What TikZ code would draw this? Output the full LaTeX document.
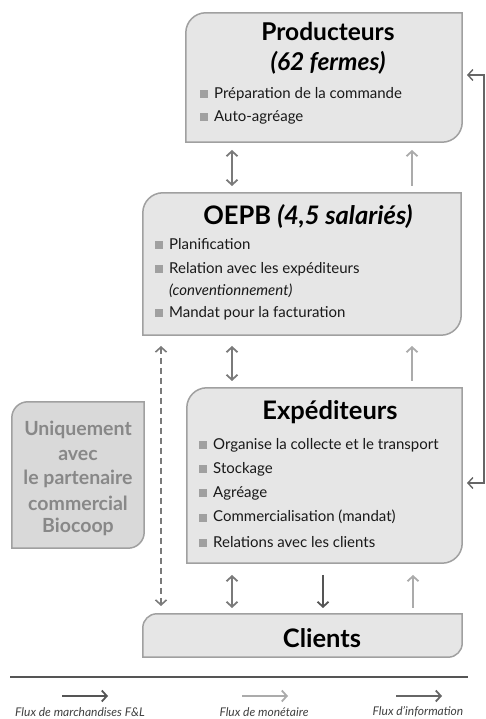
\documentclass[tikz,border=0pt]{standalone}
\usepackage{fontspec}
\setmainfont{Lato}
\usetikzlibrary{arrows.meta}
\definecolor{boxfill}{HTML}{E6E6E6}
\definecolor{boxline}{HTML}{A0A0A0}
\definecolor{bulgray}{HTML}{A0A0A0}
\definecolor{darkarr}{HTML}{555555}
\definecolor{medarr}{HTML}{7A7A7A}
\definecolor{lightarr}{HTML}{ABABAB}
\definecolor{bioFill}{HTML}{D9D9D9}
\definecolor{bioText}{HTML}{888888}
\newcommand{\bul}{{\color{bulgray}\rule{8pt}{8pt}}\hspace{6pt}}
\newcommand{\fancyshape}[3]{% node, radius, style
  \draw[#3] (#1.south west) -- ([yshift=-#2]#1.north west)
    arc[start angle=180,end angle=90,radius=#2] -- (#1.north east)
    -- ([yshift=#2]#1.south east)
    arc[start angle=0,end angle=-90,radius=#2] -- cycle;}
\tikzset{
  boxarea/.style={rectangle,draw=none,inner sep=0pt,minimum width=#1},
  boxst/.style={fill=boxfill,draw=boxline,line width=1.5pt},
  biost/.style={fill=bioFill,draw=boxline,line width=1.5pt},
  titletxt/.style={font=\fontsize{25.5}{28}\selectfont\bfseries,inner sep=0pt},
  bigtitle/.style={font=\fontsize{24.5}{28}\selectfont\bfseries,inner sep=0pt,anchor=base},
  bultxt/.style={font=\fontsize{15}{17}\selectfont,anchor=west,inner sep=0pt,text=black!90},
  biotxt/.style={font=\fontsize{19.5}{21}\selectfont\bfseries,text=bioText,inner sep=0pt},
  legtxt/.style={font=\fontsize{12}{14}\selectfont\itshape,inner sep=0pt,text=black!75},
  dbl/.style={draw=medarr,line width=1.8pt,{Straight Barb[length=5pt,width=11pt]}-{Straight Barb[length=5pt,width=11pt]}},
  downdark/.style={draw=darkarr,line width=1.8pt,-{Straight Barb[length=5pt,width=11pt]}},
  uplight/.style={draw=lightarr,line width=1.8pt,-{Straight Barb[length=5pt,width=11pt]}},
  dashdbl/.style={draw=medarr,line width=1.6pt,dash pattern=on 6pt off 4pt,{Straight Barb[length=5pt,width=11pt]}-{Straight Barb[length=5pt,width=11pt]}},
  infoarr/.style={draw=darkarr!90,line width=1.4pt,{Straight Barb[length=5pt,width=11pt]}-{Straight Barb[length=5pt,width=11pt]}},
}
\begin{document}
\begin{tikzpicture}[x=1pt,y=1pt]
\useasboundingbox (0,0) rectangle (486,719);
% boxes
\node[boxarea=276pt,minimum height=129pt] (prod) at (324,641.5) {};
\fancyshape{prod}{20pt}{boxst}
\node[boxarea=318pt,minimum height=142pt] (oepb) at (302,455) {};
\fancyshape{oepb}{20pt}{boxst}
\node[boxarea=275pt,minimum height=175pt] (exp) at (324.5,243.5) {};
\fancyshape{exp}{20pt}{boxst}
\node[boxarea=132pt,minimum height=146pt] (bio) at (78,244) {};
\fancyshape{bio}{16pt}{biost}
\node[boxarea=319pt,minimum height=43pt] (cli) at (302.5,83.5) {};
\fancyshape{cli}{14pt}{boxst}
% Producteurs text
\node[bigtitle] (pt1) at (328,678) {Producteurs};
\node[bigtitle,font=\fontsize{24.5}{28}\selectfont\bfseries\itshape] (pt2) at (328,648.5) {(62 fermes)};
\node[bultxt] (pb1) at (200,625) {\bul Préparation de la commande};
\node[bultxt] (pb2) at (200,602) {\bul Auto-agréage};
% OEPB text
\node[titletxt] (ot) at (308,502) {OEPB \textit{(4,5 salariés)}};
\node[bultxt] (ob1) at (155,475) {\bul Planification};
\node[bultxt] (ob2) at (155,450) {\bul Relation avec les expéditeurs};
\node[bultxt,font=\fontsize{15}{17}\selectfont\itshape] (ob3) at (169,428) {(conventionnement)};
\node[bultxt] (ob4) at (155,406) {\bul Mandat pour la facturation};
% Expediteurs text
\node[titletxt] (et) at (330,307) {Expéditeurs};
\node[bultxt] (eb1) at (199,274) {\bul Organise la collecte et le transport};
\node[bultxt] (eb2) at (199,250) {\bul Stockage};
\node[bultxt] (eb3) at (199,226) {\bul Agréage};
\node[bultxt] (eb4) at (199,202) {\bul Commercialisation (mandat)};
\node[bultxt] (eb5) at (199,177) {\bul Relations avec les clients};
% Biocoop text
\node[biotxt] (bt1) at (78,289) {Uniquement};
\node[biotxt] (bt2) at (78,264) {avec};
\node[biotxt] (bt3) at (78,240) {le partenaire};
\node[biotxt] (bt4) at (78,216) {commercial};
\node[biotxt] (bt5) at (78,192) {Biocoop};
% Clients text
\node[titletxt] (ct) at (322,81) {Clients};
% arrow coordinates
\coordinate (a1s) at (232,569); \coordinate (a1e) at (232,533);
\coordinate (a2s) at (412,533); \coordinate (a2e) at (412,569);
\coordinate (a3s) at (232,373); \coordinate (a3e) at (232,338);
\coordinate (a4s) at (412,338); \coordinate (a4e) at (412,373);
\coordinate (a5s) at (161,373); \coordinate (a5e) at (161,113);
\coordinate (a6s) at (232,144); \coordinate (a6e) at (232,111);
\coordinate (a7s) at (323,144); \coordinate (a7e) at (323,111);
\coordinate (a8s) at (413,111); \coordinate (a8e) at (413,144);
\coordinate (rTop) at (467,644); \coordinate (rBot) at (467,236);
\draw[dbl] (a1s) -- (a1e);
\draw[uplight] (a2s) -- (a2e);
\draw[dbl] (a3s) -- (a3e);
\draw[uplight] (a4s) -- (a4e);
\draw[dashdbl] (a5s) -- (a5e);
\draw[dbl] (a6s) -- (a6e);
\draw[downdark] (a7s) -- (a7e);
\draw[uplight] (a8s) -- (a8e);
\draw[infoarr] (rTop) -- ++(17,0) |- (rBot);
% legend
\coordinate (hl1) at (10,42); \coordinate (hl2) at (468,42);
\draw[draw=darkarr,line width=2pt] (hl1) -- (hl2);
\coordinate (l1s) at (62,23); \coordinate (l1e) at (108,23);
\coordinate (l2s) at (242,23); \coordinate (l2e) at (288,23);
\coordinate (l3s) at (396,23); \coordinate (l3e) at (442,23);
\draw[downdark] (l1s) -- (l1e);
\draw[uplight] (l2s) -- (l2e);
\draw[downdark,draw=darkarr!90] (l3s) -- (l3e);
\node[legtxt] (lt1) at (80,7) {Flux de marchandises F\&L};
\node[legtxt] (lt2) at (264,7) {Flux de monétaire};
\node[legtxt] (lt3) at (418,7) {Flux d'information};
\end{tikzpicture}
\end{document}
